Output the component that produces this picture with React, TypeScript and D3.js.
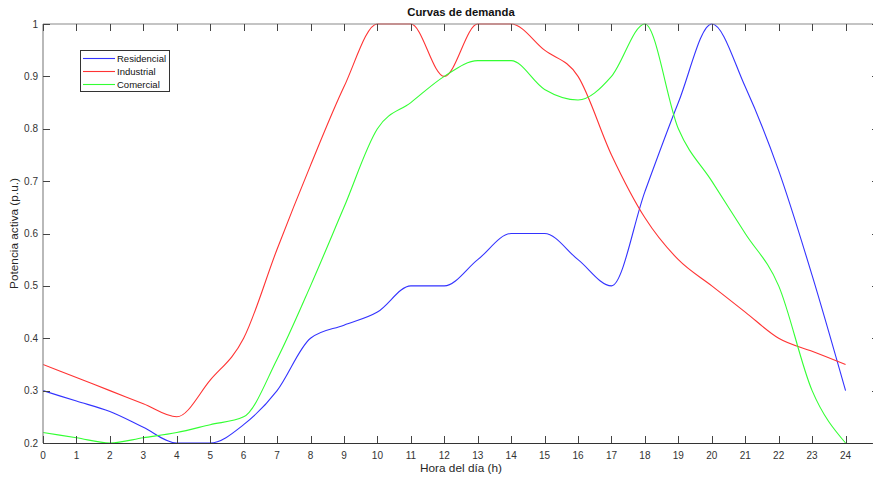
import React from "react";
import * as d3 from "d3";

const hours = d3.range(0, 25);
const residencial = [0.30, 0.28, 0.26, 0.23, 0.20, 0.20, 0.235, 0.30, 0.40, 0.425, 0.45, 0.50, 0.50, 0.55, 0.60, 0.60, 0.55, 0.50, 0.68, 0.85, 1.0, 0.88, 0.72, 0.52, 0.30];
const industrial = [0.35, 0.325, 0.30, 0.275, 0.25, 0.32, 0.40, 0.57, 0.73, 0.88, 1.0, 1.0, 0.90, 1.0, 1.0, 0.95, 0.90, 0.75, 0.63, 0.55, 0.50, 0.45, 0.40, 0.375, 0.35];
const comercial = [0.22, 0.21, 0.20, 0.21, 0.22, 0.235, 0.25, 0.36, 0.50, 0.65, 0.80, 0.85, 0.90, 0.93, 0.93, 0.875, 0.855, 0.90, 1.0, 0.80, 0.70, 0.60, 0.50, 0.30, 0.20];
const seriesNames = ["Residencial", "Industrial", "Comercial"];
const seriesColors = ["#3333ff", "#ff3333", "#33ff33"];
const xTicks = d3.range(0, 25);
const yTicks = [0.2, 0.3, 0.4, 0.5, 0.6, 0.7, 0.8, 0.9, 1];

export default function App() {
  const W = 873, H = 477;
  const left = 43, right = 879, top = 24, bottom = 443;
  const x = d3.scaleLinear().domain([0, 25]).range([left, right]);
  const y = d3.scaleLinear().domain([0.2, 1]).range([bottom, top]);
  const line = d3.line<number>().x((_, i) => x(hours[i])).y((d) => y(d)).curve(d3.curveMonotoneX);
  const data = [residencial, industrial, comercial];
  const font = "'Liberation Sans', Arial, sans-serif";
  return (
    <svg width={W} height={H} style={{ position: "absolute", left: 0, top: 0, background: "#fff" }} fontFamily={font}>
      <defs>
        <clipPath id="plot">
          <rect x={left} y={top - 1} width={right - left} height={bottom - top + 2} />
        </clipPath>
      </defs>
      <rect x={0} y={0} width={W} height={H} fill="#fff" />
      <g clipPath="url(#plot)">
        {data.map((d, i) => (
          <path key={i} d={line(d) || ""} fill="none" stroke={seriesColors[i]} strokeWidth={1.1} />
        ))}
      </g>
      <line x1={left} x2={right} y1={top} y2={top} stroke="#8a8a8a" strokeWidth={1.2} />
      <line x1={left} x2={left} y1={top} y2={bottom} stroke="#8a8a8a" strokeWidth={1.2} />
      <line x1={left} x2={right} y1={bottom + 0.5} y2={bottom + 0.5} stroke="#333" strokeWidth={1} />
      <line x1={right} x2={right} y1={top} y2={bottom} stroke="#333" strokeWidth={1} />
      {xTicks.map((t) => (
        <g key={t}>
          <line x1={Math.round(x(t)) + 0.5} x2={Math.round(x(t)) + 0.5} y1={bottom} y2={bottom - 7} stroke="#444" />
          <line x1={Math.round(x(t)) + 0.5} x2={Math.round(x(t)) + 0.5} y1={top} y2={top + 7} stroke="#444" />
          <text x={x(t)} y={459} textAnchor="middle" fontSize={10} fill="#333">{t}</text>
        </g>
      ))}
      {yTicks.map((t) => (
        <g key={t}>
          <line x1={left} x2={left + 7} y1={Math.round(y(t)) + 0.5} y2={Math.round(y(t)) + 0.5} stroke="#444" />
          <line x1={right} x2={right - 7} y1={Math.round(y(t)) + 0.5} y2={Math.round(y(t)) + 0.5} stroke="#444" />
          <text x={38} y={y(t) + 3.5} textAnchor="end" fontSize={10} fill="#333">{t === 1 ? "1" : t.toFixed(1)}</text>
        </g>
      ))}
      <text x={(left + right) / 2} y={16} textAnchor="middle" fontSize={11.3} fontWeight="bold" fill="#111">Curvas de demanda</text>
      <text x={(left + right) / 2} y={472} textAnchor="middle" fontSize={11.8} fill="#262626">Hora del día (h)</text>
      <text transform={`translate(18,${(top + bottom) / 2}) rotate(-90)`} textAnchor="middle" fontSize={11.8} fill="#262626">Potencia activa (p.u.)</text>
      <rect x={80.5} y={50.5} width={89} height={41} fill="#fff" stroke="#333" strokeWidth={1} />
      {seriesNames.map((n, i) => (
        <g key={n}>
          <line x1={83} x2={115} y1={58.5 + i * 13} y2={58.5 + i * 13} stroke={seriesColors[i]} strokeWidth={1.1} />
          <text x={117} y={62 + i * 13} fontSize={9.5} fill="#111">{n}</text>
        </g>
      ))}
    </svg>
  );
}
